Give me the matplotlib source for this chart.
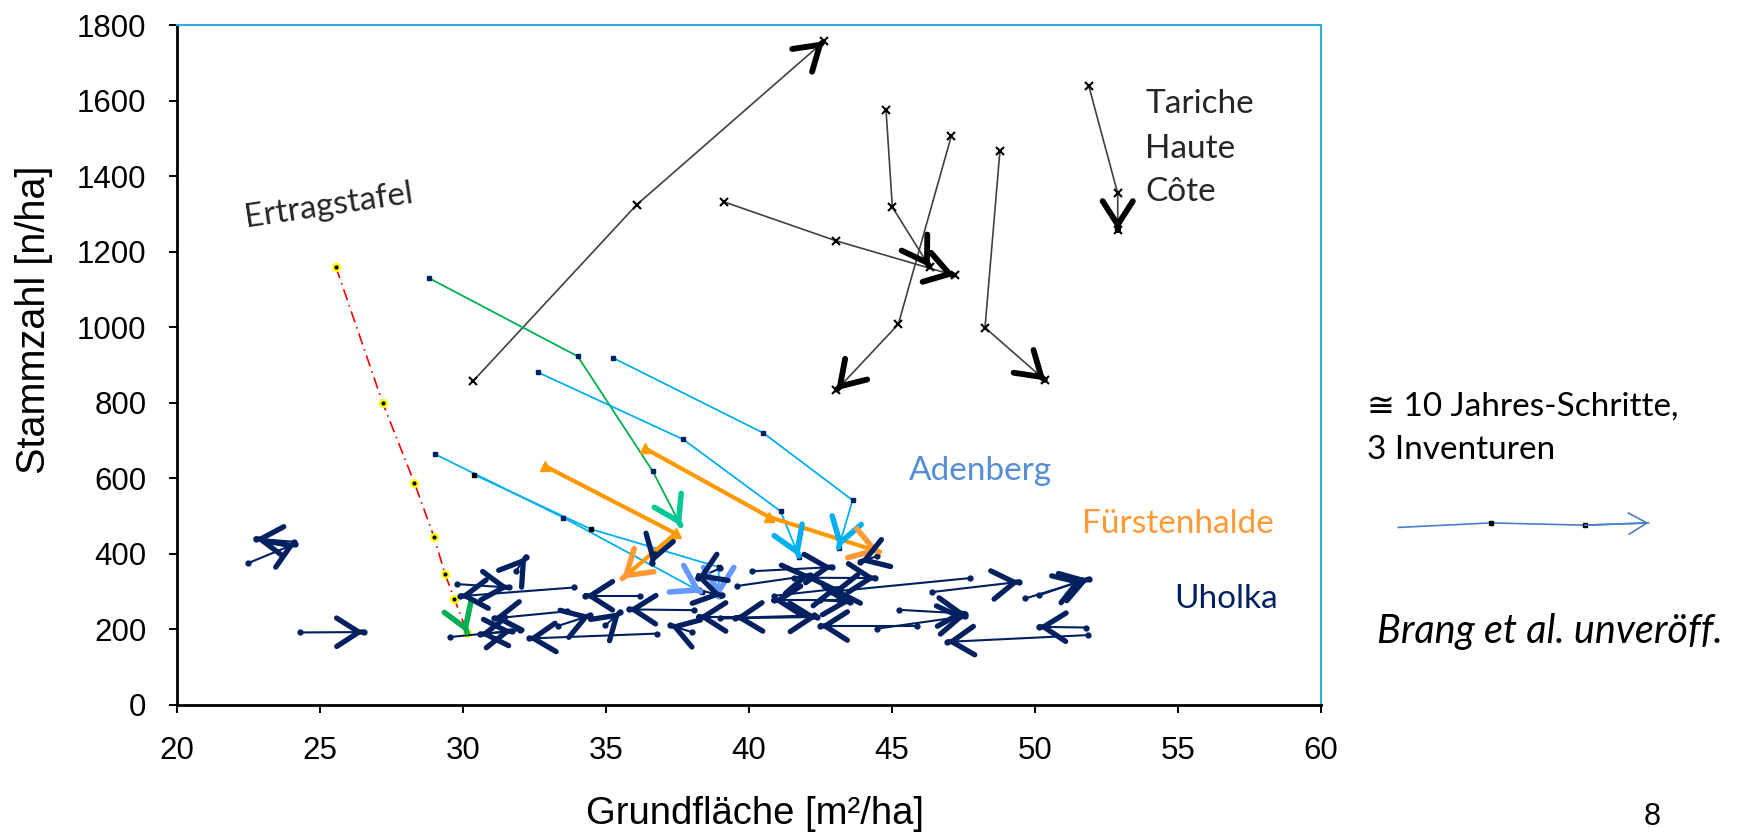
import matplotlib
matplotlib.use('Agg')
import matplotlib.pyplot as plt

plt.rcParams['font.family'] = ['Liberation Sans', 'DejaVu Sans']

# Ertragstafel (yield table)
ertrag_x = [25.56, 27.19, 28.30, 28.99, 29.37, 29.70, 30.15]
ertrag_y = [1159, 800, 588, 444, 347, 280, 191]

# Tariche Haute Cote
tariche_1_x = [30.36, 36.07, 42.62]
tariche_1_y = [858, 1324, 1757]
tariche_2_x = [39.12, 43.03, 47.19]
tariche_2_y = [1332, 1229, 1137]
tariche_3_x = [44.79, 45.01, 46.32]
tariche_3_y = [1574, 1318, 1159]
tariche_4_x = [47.07, 45.22, 43.05]
tariche_4_y = [1506, 1008, 833]
tariche_5_x = [48.77, 48.25, 50.36]
tariche_5_y = [1466, 999, 859]
tariche_6_x = [51.88, 52.89, 52.89]
tariche_6_y = [1638, 1354, 1257]

# Adenberg
green_x = [28.81, 34.01, 36.63, 37.62]
green_y = [1130, 923, 619, 474]
aden_a_x = [35.24, 40.50, 43.62, 43.13]
aden_a_y = [919, 720, 542, 416]
aden_b_x = [32.61, 37.70, 41.10, 41.75]
aden_b_y = [881, 703, 513, 393]
aden_c_x = [29.02, 33.51, 38.35]
aden_c_y = [664, 496, 298]
aden_d_x = [30.38, 34.46, 38.94, 38.94]
aden_d_y = [610, 466, 365, 288]

# Fuerstenhalde
fuerst_1_x = [32.88, 37.43, 35.56]
fuerst_1_y = [632, 454, 334]
fuerst_2_x = [36.37, 40.69, 44.57]
fuerst_2_y = [679, 498, 405]

# Uholka: one arrow per inventory interval (start -> end)
uh_x0 = [22.47, 24.10, 24.29, 31.85, 29.79, 33.87, 33.64, 33.31, 32.00, 29.56,
         36.78, 38.00, 36.20, 34.98, 38.06, 39.70, 36.70, 39.00, 38.24, 40.10,
         39.58, 41.58, 44.47, 40.86, 42.49, 43.13, 47.74, 46.40, 45.23, 44.47,
         45.87, 42.26, 39.00, 51.84, 51.79, 49.66, 50.13]
uh_y0 = [375, 432, 192, 355, 320, 311, 248, 209, 198, 180,
         189, 193, 289, 211, 251, 233, 400, 362, 304, 354,
         315, 337, 394, 289, 277, 277, 336, 299, 252, 202,
         209, 237, 229, 185, 205, 282, 290]
uh_x1 = [24.14, 22.75, 26.53, 32.21, 31.60, 29.90, 31.07, 34.45, 30.60, 31.71,
         32.29, 37.25, 34.28, 35.50, 35.79, 38.24, 36.60, 38.20, 39.05, 42.90,
         42.14, 44.42, 43.89, 43.13, 43.54, 40.86, 42.90, 49.45, 47.56, 47.56,
         42.49, 39.52, 42.38, 46.92, 50.13, 51.87, 51.64]
uh_y1 = [427, 440, 193, 392, 311, 288, 229, 237, 187, 196,
         176, 211, 289, 246, 253, 233, 375, 336, 290, 365,
         343, 336, 379, 308, 273, 277, 300, 326, 242, 235,
         209, 231, 233, 167, 207, 333, 330]

# example arrow beside the plot
legend_x = [62.70, 65.94, 69.22, 71.45]
legend_y = [470, 482, 476, 482]

navy = '#002060'
cyan = '#00B0F0'
orange = '#FF9900'

fig = plt.figure(figsize=(17.54, 8.34), dpi=100)
ax = fig.add_axes([0.1009, 0.1547, 0.6523, 0.8153])
ax.set_xlim(20, 60)
ax.set_ylim(0, 1800)


def head(x0, y0, x1, y1, color, lw, ms, z=5):
    # tiny stub on the last segment, so only the open "V" head shows
    ax.annotate('', xy=(x1, y1), xytext=(x1 - (x1 - x0) * 0.01, y1 - (y1 - y0) * 0.01),
                annotation_clip=False, zorder=z,
                arrowprops=dict(arrowstyle='->,head_length=0.5,head_width=0.32',
                                color=color, lw=lw, mutation_scale=ms,
                                shrinkA=0, shrinkB=0, capstyle='round',
                                joinstyle='round'))


# Ertragstafel
ax.plot(ertrag_x, ertrag_y, color='red', lw=1.2, dashes=[7, 3, 1, 3], zorder=3)
ax.plot(ertrag_x, ertrag_y, 'o', ms=5.5, mfc='yellow', mec='yellow', zorder=4)
ax.plot(ertrag_x, ertrag_y, 'o', ms=2, color='black', zorder=4)
head(ertrag_x[-2], ertrag_y[-2], ertrag_x[-1], ertrag_y[-1], '#00B050', 4, 32)

# Tariche
for xs, ys in [(tariche_1_x, tariche_1_y), (tariche_2_x, tariche_2_y),
               (tariche_3_x, tariche_3_y), (tariche_4_x, tariche_4_y),
               (tariche_5_x, tariche_5_y), (tariche_6_x, tariche_6_y)]:
    ax.plot(xs, ys, color='#404040', lw=1.2, marker='x', ms=6, mec='black',
            mew=1.5, zorder=3)
    head(xs[-2], ys[-2], xs[-1], ys[-1], 'black', 4.2, 34)

# Adenberg
ax.plot(green_x, green_y, color='#00B050', lw=1.3, zorder=3)
ax.plot(green_x[:-1], green_y[:-1], 's', ms=3, color=navy, zorder=4)
head(green_x[-2], green_y[-2], green_x[-1], green_y[-1], '#00C896', 4, 34)

for xs, ys, mc, hc in [(aden_a_x, aden_a_y, navy, cyan), (aden_b_x, aden_b_y, navy, cyan),
                       (aden_c_x, aden_c_y, navy, '#6699FF'),
                       (aden_d_x, aden_d_y, 'black', '#6699FF')]:
    ax.plot(xs, ys, color=cyan, lw=1.3, zorder=3)
    ax.plot(xs, ys, 's', ms=3, color=mc, zorder=4)
    head(xs[-2], ys[-2], xs[-1], ys[-1], hc, 4, 34)

# Fuerstenhalde
for xs, ys in [(fuerst_1_x, fuerst_1_y), (fuerst_2_x, fuerst_2_y)]:
    ax.plot(xs, ys, color=orange, lw=3, zorder=3)
    ax.plot(xs[:-1], ys[:-1], '^', ms=7, color=orange, zorder=4)
    head(xs[-2], ys[-2], xs[-1], ys[-1], '#FF9933', 4, 34)

# Uholka
for x0, y0, x1, y1 in zip(uh_x0, uh_y0, uh_x1, uh_y1):
    ax.plot([x0, x1], [y0, y1], color=navy, lw=1.5, zorder=4)
    ax.plot([x0, x1], [y0, y1], 'o', ms=3.5, color=navy, zorder=4)
    head(x0, y0, x1, y1, navy, 3.8, 32, z=6)

# example arrow
ax.plot(legend_x, legend_y, color='#4A7EC8', lw=1.2, clip_on=False)
ax.plot(legend_x[1:3], legend_y[1:3], 's', ms=3, color='black', clip_on=False)
ax.annotate('', xy=(legend_x[-1], legend_y[-1]), xytext=(legend_x[-2], legend_y[-2]),
            annotation_clip=False,
            arrowprops=dict(arrowstyle='->,head_length=0.6,head_width=0.35',
                            color='#4A7EC8', lw=1.2, mutation_scale=22,
                            shrinkA=0, shrinkB=0))

# group labels
lab = ['Lato', 'DejaVu Sans']
ax.text(53.85, 1592, 'Tariche', family=lab, fontsize=24, color='#262626', va='center')
ax.text(53.85, 1473, 'Haute', family=lab, fontsize=24, color='#262626', va='center')
ax.text(53.85, 1358, 'Côte', family=lab, fontsize=24, color='#262626', va='center')
ax.text(25.3, 1322, 'Ertragstafel', family=lab, fontsize=24, color='#262626',
        ha='center', va='center', rotation=8.4)
ax.text(48.09, 620, 'Adenberg', family=lab, fontsize=24, color='#558ED5', ha='center', va='center')
ax.text(55.0, 478, 'Fürstenhalde', family=lab, fontsize=24, color='#FF9933', ha='center', va='center')
ax.text(56.66, 280, 'Uholka', family=lab, fontsize=24, color=navy, ha='center', va='center')

fig.text(1367 / 1754, 1 - 407 / 834, '≅ 10 Jahres-Schritte,', family=lab, fontsize=24,
         va='center')
fig.text(1367 / 1754, 1 - 450 / 834, '3 Inventuren', family=lab, fontsize=24, va='center')
fig.text(1377 / 1754, 1 - 632 / 834, 'Brang et al. unveröff.', family=lab, fontsize=28.5,
         style='italic', va='center')
fig.text(1652 / 1754, 2 / 834, '8', fontsize=22, va='bottom', ha='center')

# axes styling
ax.set_xticks(range(20, 61, 5))
ax.set_yticks(range(0, 1801, 200))
ax.tick_params(direction='out', length=6, width=1.4, labelsize=22.5, pad=16)
for s in ['left', 'bottom']:
    ax.spines[s].set_linewidth(2)
    ax.spines[s].set_color('black')
for s in ['top', 'right']:
    ax.spines[s].set_linewidth(1.5)
    ax.spines[s].set_color('#29ABE2')

ax.set_xlabel('Grundfläche [m²/ha]', fontsize=27.5, va='center')
ax.xaxis.set_label_coords(0.505, -0.16)
ax.set_ylabel('Stammzahl [n/ha]', fontsize=28.5, va='center')
ax.yaxis.set_label_coords(-0.125, 0.566)

plt.savefig('out.png', dpi=100)
